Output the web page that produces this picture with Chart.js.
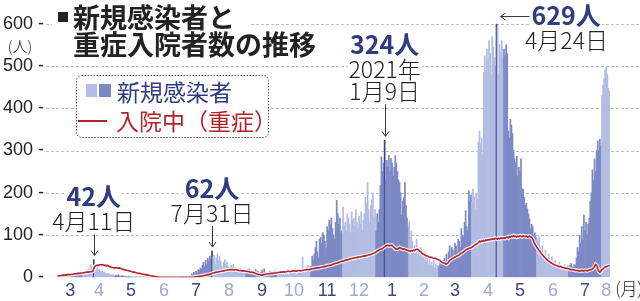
<!DOCTYPE html>
<html>
<head>
<meta charset="utf-8">
<script src="https://cdn.jsdelivr.net/npm/chart.js@4.4.1/dist/chart.umd.min.js"></script>
<style>
  html, body { margin: 0; padding: 0; background: #fff; }
  canvas { display: block; }
</style>
</head>
<body>
<canvas id="chart" width="640" height="301"></canvas>
<script>
// month tick labels, March 2020 .. August 2021
const monthLabels = ['3','4','5','6','7','8','9','10','11','12','1','2','3','4','5','6','7','8'];
const monthYears = [2020,2020,2020,2020,2020,2020,2020,2020,2020,2020,2021,2021,2021,2021,2021,2021,2021,2021];
// the series starts on March 8th 2020
const firstDayOfSeries = 8;

// new cases per day (新規感染者), one array per month
const cases_2020_03 = [0,1,3,2,5,1,4,6,2,3,1,5,2,4,8,3,6,9,4,11,8,12,6,10];
const cases_2020_04 = [9,14,8,16,11,20,12,30,25,18,42,20,12,22,16,18,14,10,15,12,13,8,10,6,9,5,7,4,6,3];
const cases_2020_05 = [3,5,2,6,3,1,4,2,3,1,2,0,1,2,0,1,0,1,0,0,1,0,0,1,0,0,0,1,0,0,0];
const cases_2020_06 = [0,0,1,0,0,0,0,0,0,0,0,0,0,0,0,0,0,0,0,1,0,0,0,0,0,0,1,0,0,0];
const cases_2020_07 = [0,1,0,2,1,0,3,2,1,4,3,8,6,12,10,14,9,18,15,22,20,28,35,25,40,30,45,38,50,42,62];
const cases_2020_08 = [48,52,30,45,55,40,50,38,28,22,35,42,30,36,25,20,15,28,24,30,18,22,14,12,20,16,22,13,10,9,12];
const cases_2020_09 = [14,18,10,20,12,8,6,15,12,18,10,14,8,5,12,16,9,20,11,7,5,10,14,8,12,6,9,15,10,8];
const cases_2020_10 = [10,8,15,12,6,9,14,11,18,7,5,13,10,16,9,12,20,8,6,11,14,10,15,47,12,9,18,22,28,15,25];
const cases_2020_11 = [25,50,40,55,70,85,60,45,90,95,80,105,100,85,70,120,110,135,125,140,115,100,90,130,182,150,125,140,110,105];
const cases_2020_12 = [166,120,130,110,150,140,125,105,155,135,140,120,160,130,115,145,125,155,110,135,150,189,175,224,160,130,170,183,200,140,160];
const cases_2021_01 = [108,150,130,160,217,285,250,270,324,230,277,260,288,250,281,270,240,260,288,270,250,230,224,200,147,180,190,224,170,140,120];
const cases_2021_02 = [131,93,110,85,70,75,60,90,55,65,50,70,45,55,40,60,38,45,30,42,28,35,25,40,22,30,20,28];
const cases_2021_03 = [25,35,30,40,28,45,38,55,32,60,74,50,70,65,45,80,74,60,90,85,70,115,100,95,130,158,120,110,205,180,195];
const cases_2021_04 = [178,208,190,160,200,185,320,346,316,330,290,485,524,490,540,510,560,530,480,570,545,520,500,629,593,480,551,531,560,520];
const cases_2021_05 = [540,525,550,530,346,330,374,360,340,300,280,270,286,240,260,250,280,210,208,190,170,175,162,150,138,115,125,120,100,105,95];
const cases_2021_06 = [90,85,95,70,60,75,55,50,65,45,40,55,38,30,48,35,28,40,25,30,22,35,20,28,18,25,30,15,22,28];
const cases_2021_07 = [20,28,32,25,23,30,27,45,70,60,100,80,120,90,147,110,130,100,125,140,180,200,254,230,280,250,300,323,300,327,310];
const cases_2021_08 = [430,455,470,493,497,480,447,440];

// hospitalised, severe (入院中(重症)), one array per month
const hosp_2020_03 = [3,3,4,4,4,5,5,5,5,6,6,6,6,7,7,7,8,8,8,9,9,9,10,10];
const hosp_2020_04 = [10,11,11,12,12,12,13,13,13,14,20,25,27,28,28,29,30,29,30,29,28,28,27,28,26,25,24,23,23,22];
const hosp_2020_05 = [22,23,22,21,22,21,20,19,18,18,17,16,16,15,14,14,13,12,12,11,10,10,9,9,8,8,7,7,6,6,5];
const hosp_2020_06 = [5,4,4,3,3,2,2,1,1,1,0,0,0,0,0,0,0,0,0,0,0,0,0,0,0,0,0,0,0,0];
const hosp_2020_07 = [0,0,0,0,0,0,0,0,0,0,0,0,0,0,1,1,1,2,2,2,3,3,4,4,5,5,6,6,7,8,9];
const hosp_2020_08 = [10,10,11,12,12,13,13,14,14,15,15,16,16,17,17,17,18,18,18,17,17,18,17,17,16,16,16,15,15,15,14];
const hosp_2020_09 = [14,14,13,13,12,12,11,11,10,9,8,7,6,6,5,5,6,6,7,7,8,8,8,9,9,9,10,10,10,11];
const hosp_2020_10 = [11,11,12,12,12,13,12,13,13,14,14,13,14,14,15,15,15,14,15,16,16,15,16,16,17,17,17,18,18,18,19];
const hosp_2020_11 = [19,20,20,21,21,22,22,22,23,23,24,24,25,25,26,27,27,28,28,29,30,31,32,33,33,34,35,36,37,38];
const hosp_2020_12 = [38,39,40,41,41,42,43,43,44,45,45,46,46,47,47,48,48,49,49,50,50,51,51,52,53,53,54,55,56,57,58];
const hosp_2021_01 = [60,62,63,65,66,67,68,70,72,74,75,76,74,75,76,75,72,70,68,67,66,68,70,69,68,66,67,66,65,64,63];
const hosp_2021_02 = [62,61,63,62,64,63,65,66,66,64,62,60,57,55,54,52,51,50,49,48,47,47,46,45,45,44,43,42];
const hosp_2021_03 = [41,39,37,35,34,33,32,31,33,36,39,41,43,45,46,48,49,50,51,53,55,57,58,60,62,64,66,67,68,69,70];
const hosp_2021_04 = [71,73,75,77,78,80,82,85,84,86,85,87,86,88,87,89,88,90,89,90,91,90,92,91,90,92,91,93,92,92];
const hosp_2021_05 = [93,92,94,95,93,96,95,97,96,98,96,97,95,97,96,98,97,96,98,97,96,97,95,96,97,95,94,90,84,78,74];
const hosp_2021_06 = [70,67,63,60,56,53,50,47,45,42,40,38,36,34,33,31,30,29,28,27,26,25,25,24,23,23,22,21,21,20];
const hosp_2021_07 = [20,19,18,18,17,17,16,16,16,15,15,15,16,15,15,16,16,15,16,17,18,18,20,22,26,30,28,20,14,12,15];
const hosp_2021_08 = [18,20,22,24,25,26,27,28];

// y axis ticks
const yTicks = [0,100,200,300,400,500,600];

// labelled peaks
const peakDates = ['2020/4/11','2020/7/31','2021/1/9','2021/4/24'];
const peakAmounts = ['42人','62人','324人','629人'];
const peakDateLines = [['4月11日'],['7月31日'],['2021年','1月9日'],['4月24日']];

const caseMonths = [cases_2020_03,cases_2020_04,cases_2020_05,cases_2020_06,cases_2020_07,cases_2020_08,
  cases_2020_09,cases_2020_10,cases_2020_11,cases_2020_12,cases_2021_01,cases_2021_02,
  cases_2021_03,cases_2021_04,cases_2021_05,cases_2021_06,cases_2021_07,cases_2021_08];
const hospMonths = [hosp_2020_03,hosp_2020_04,hosp_2020_05,hosp_2020_06,hosp_2020_07,hosp_2020_08,
  hosp_2020_09,hosp_2020_10,hosp_2020_11,hosp_2020_12,hosp_2021_01,hosp_2021_02,
  hosp_2021_03,hosp_2021_04,hosp_2021_05,hosp_2021_06,hosp_2021_07,hosp_2021_08];

const DARK_BAR = '#7d89c4';
const LIGHT_BAR = '#b3bde3';
const PEAK_BAR = '#38458a';
const RED = '#b3232a';
const NAVY = '#2f3d80';
const JP = '"Noto Sans CJK JP", sans-serif';
const NUM = '"Liberation Sans", Arial, sans-serif';

// flatten the months into day categories
const labels = [], cases = [], hosp = [], barColors = [], tickText = [], tickColors = [];
caseMonths.forEach((arr, m) => {
  const start = m === 0 ? firstDayOfSeries : 1;
  const mid = Math.floor(arr.length / 2);
  arr.forEach((v, d) => {
    const label = monthYears[m] + '/' + monthLabels[m] + '/' + (start + d);
    labels.push(label);
    cases.push(v);
    hosp.push(hospMonths[m][d]);
    let c = m % 2 === 0 ? DARK_BAR : LIGHT_BAR;
    if (peakDates.includes(label)) c = PEAK_BAR;
    barColors.push(c);
    tickText.push(d === mid ? monthLabels[m] : '');
    tickColors.push(m % 2 === 0 ? '#3b4a80' : '#9ba8cf');
  });
});

function arrowHead(ctx, x, y, dir) {
  ctx.beginPath();
  if (dir === 'down') {
    ctx.moveTo(x - 3.5, y - 5); ctx.lineTo(x, y); ctx.lineTo(x + 3.5, y - 5);
  } else {
    ctx.moveTo(x + 5, y - 3.5); ctx.lineTo(x, y); ctx.lineTo(x + 5, y + 3.5);
  }
  ctx.stroke();
}

function textBox(ctx, text, x, y) {
  const w = ctx.measureText(text).width;
  ctx.fillStyle = '#fff';
  const left = ctx.textAlign === 'center' ? x - w / 2 : x;
  ctx.fillRect(left - 1, y - 10, w + 2, 20);
}

const decorations = {
  id: 'decorations',
  beforeDatasetsDraw(chart) {
    const ctx = chart.ctx, y = chart.scales.y;
    ctx.save();
    ctx.strokeStyle = '#bdbdbd';
    ctx.lineWidth = 1;
    ctx.setLineDash([3, 2]);
    yTicks.slice(1).forEach(v => {
      const yy = Math.round(y.getPixelForValue(v)) + 0.5;
      ctx.beginPath();
      ctx.moveTo(46, yy);
      ctx.lineTo(640, yy);
      ctx.stroke();
    });
    ctx.restore();
  },
  afterDraw(chart) {
    const ctx = chart.ctx, x = chart.scales.x, y = chart.scales.y;
    ctx.save();

    // unit labels
    ctx.fillStyle = '#222';
    ctx.font = '300 15px ' + JP;
    ctx.textAlign = 'center';
    ctx.textBaseline = 'middle';
    ctx.fillText('(人)', 20, (y.getPixelForValue(600) + y.getPixelForValue(500)) / 2 + 1);
    ctx.font = '300 17px ' + JP;
    ctx.fillText('(月)', 629, 289);

    // title
    ctx.fillStyle = '#fff';
    ctx.fillRect(52, 4, 198, 28);
    ctx.fillRect(52, 32, 280, 26);
    ctx.fillStyle = '#222';
    ctx.fillRect(58, 12, 10, 10);
    ctx.font = 'bold 27px ' + JP;
    ctx.textAlign = 'left';
    ctx.fillText('新規感染者と', 73, 18);
    ctx.fillText('重症入院者数の推移', 73, 45);

    // legend box
    ctx.beginPath();
    ctx.roundRect(76.5, 75.5, 192, 62, 5);
    ctx.fillStyle = '#fff';
    ctx.fill();
    ctx.setLineDash([1.5, 1.5]);
    ctx.strokeStyle = '#555';
    ctx.lineWidth = 1;
    ctx.stroke();
    ctx.setLineDash([]);
    ctx.fillStyle = LIGHT_BAR;
    ctx.fillRect(86, 84, 11, 13);
    ctx.fillStyle = DARK_BAR;
    ctx.fillRect(99, 84, 12, 13);
    ctx.font = '23px ' + JP;
    ctx.fillStyle = NAVY;
    ctx.fillText('新規感染者', 117, 92);
    ctx.strokeStyle = RED;
    ctx.lineWidth = 2;
    ctx.beginPath();
    ctx.moveTo(78, 121);
    ctx.lineTo(107, 121);
    ctx.stroke();
    ctx.fillStyle = RED;
    ctx.fillText('入院中（重症）', 116, 121);

    // peak annotations
    ctx.lineWidth = 1;
    ctx.strokeStyle = '#333';
    peakDates.forEach((date, i) => {
      const idx = labels.indexOf(date);
      const px = x.getPixelForValue(idx);
      const py = y.getPixelForValue(cases[idx]);
      const lines = peakDateLines[i];
      if (i === 3) {
        // arrow pointing left to the tallest bar
        const ay = py + 5;
        ctx.beginPath();
        ctx.moveTo(px + 4, ay);
        ctx.lineTo(px + 33, ay);
        ctx.stroke();
        arrowHead(ctx, px + 4, ay, 'left');
        ctx.textAlign = 'left';
        ctx.font = 'bold 25px ' + JP;
        textBox(ctx, peakAmounts[i], px + 35, py + 4);
        ctx.fillStyle = NAVY;
        ctx.fillText(peakAmounts[i], px + 35, py + 4);
        ctx.textAlign = 'center';
        ctx.font = '300 23px ' + JP;
        ctx.fillStyle = '#222';
        ctx.fillText(lines[0], px + 70, py + 29);
        return;
      }
      const len = i === 2 ? 32 : 21;
      const bottom = py - 4, top = bottom - len;
      ctx.beginPath();
      ctx.moveTo(Math.round(px) + 0.5, top);
      ctx.lineTo(Math.round(px) + 0.5, bottom);
      ctx.stroke();
      arrowHead(ctx, Math.round(px) + 0.5, bottom, 'down');
      ctx.textAlign = 'center';
      ctx.font = '300 23px ' + JP;
      let ty = top - 13;
      for (let k = lines.length - 1; k >= 0; k--) {
        textBox(ctx, lines[k], px, ty);
        ctx.fillStyle = '#222';
        ctx.fillText(lines[k], px, ty);
        ty -= 22;
      }
      ctx.font = 'bold 25px ' + JP;
      const ay = ty + 22 - 25;
      textBox(ctx, peakAmounts[i], px, ay);
      ctx.fillStyle = NAVY;
      ctx.fillText(peakAmounts[i], px, ay);
    });
    ctx.restore();
  }
};

new Chart(document.getElementById('chart'), {
  data: {
    labels: labels,
    datasets: [
      {
        type: 'line',
        data: hosp,
        borderColor: RED,
        borderWidth: 1.6,
        pointRadius: 0,
        tension: 0,
        order: 0
      },
      {
        type: 'line',
        data: hosp,
        borderColor: 'rgba(255,255,255,0.85)',
        borderWidth: 4,
        pointRadius: 0,
        tension: 0,
        order: 1
      },
      {
        type: 'bar',
        data: cases,
        backgroundColor: barColors,
        borderWidth: 0,
        barPercentage: 1,
        categoryPercentage: 1,
        order: 2
      }
    ]
  },
  options: {
    responsive: false,
    animation: false,
    devicePixelRatio: 1,
    layout: { padding: { top: 20, right: 30, bottom: 0, left: 0 } },
    plugins: { legend: { display: false }, tooltip: { enabled: false } },
    scales: {
      x: {
        grid: { display: false, drawTicks: false },
        border: { display: false },
        afterFit: (scale) => { scale.height = 23; },
        ticks: {
          autoSkip: false,
          maxRotation: 0,
          minRotation: 0,
          padding: 3,
          font: { family: NUM, size: 18 },
          color: (c) => tickColors[c.index],
          callback: (value, index) => tickText[index]
        }
      },
      y: {
        min: 0,
        max: 600,
        grid: { display: false, drawTicks: false },
        border: { display: false },
        afterFit: (scale) => { scale.width = 57; },
        ticks: {
          stepSize: 100,
          padding: 13,
          font: { family: NUM, size: 18 },
          color: '#222',
          callback: (v) => v + ' -'
        }
      }
    }
  },
  plugins: [decorations]
});
</script>
</body>
</html>
